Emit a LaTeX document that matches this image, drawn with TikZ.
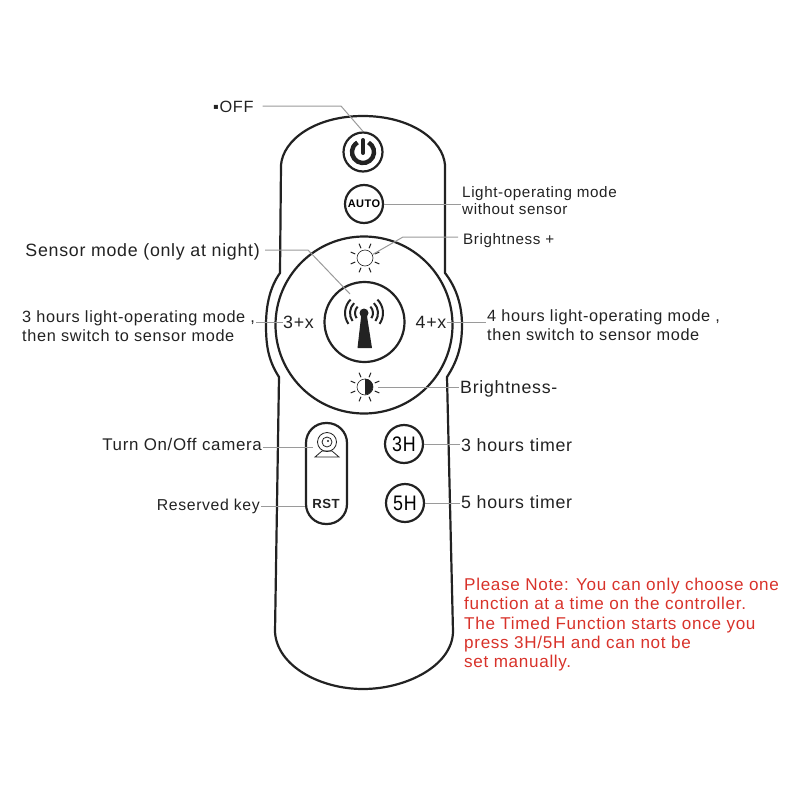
\documentclass[tikz,border=0pt]{standalone}
\usepackage{fontspec}
\setmainfont[LetterSpace=4]{Liberation Sans}
\usepackage{xcolor}
\usetikzlibrary{arrows.meta,positioning}
\definecolor{bodyink}{HTML}{222222}
\definecolor{leadgray}{HTML}{9A9A9A}
\definecolor{notered}{HTML}{D8322A}
\newcommand{\narrowkey}[1]{\scalebox{0.85}[1]{\fontsize{21}{22}\selectfont #1}}

\begin{document}
\begin{tikzpicture}[
  x=1pt,y=-1pt,
  btn/.style ={draw=bodyink,circle,line width=2.2pt,minimum size=38pt,inner sep=0pt,align=center},
  lbl/.style ={font=\fontsize{15.2}{17.5}\selectfont,text=bodyink,align=left,inner sep=1pt},
  mid/.style ={lbl,font=\fontsize{16.3}{19}\selectfont},
  big/.style ={lbl,font=\fontsize{17.8}{20}\selectfont},
  note/.style={lbl,text=notered,anchor=north west,font=\fontsize{17.1}{19.25}\selectfont},
  lead/.style={draw=leadgray,line width=1pt},
  sunny/.style={draw=bodyink,circle,line width=0.6pt,minimum size=16pt,inner sep=0pt},
  rayl/.style={bodyink,line width=1pt},
  wave/.style={bodyink,line width=2pt}
]
\useasboundingbox (0,0) rectangle (800,800);

%% Remote outline
\draw[bodyink,line width=2.2pt]
  (281,165) .. controls (283,140) and (315,116) .. (363,116)
  .. controls (411,116) and (443,140) .. (445,165)
  -- (445,273) .. controls (456,287) and (462,305) .. (462,325)
  .. controls (462,345) and (458,360) .. (447,377)
  -- (453,632) .. controls (452,666) and (406,689) .. (363,689)
  .. controls (320,689) and (277,666) .. (275,632)
  -- (279,377) .. controls (268,360) and (266,345) .. (266,325)
  .. controls (266,305) and (270,287) .. (280,273) -- cycle;

%% Buttons
\node[btn,minimum size=39pt] (power) at (363,152) {};
\node[btn] (auto) at (364,204) {\fontsize{11}{12}\selectfont\bfseries AUTO};
\node[draw=bodyink,circle,line width=2.2pt,minimum size=177pt,inner sep=0pt] (dial) at (364,325) {};
\node[draw=bodyink,circle,line width=2.2pt,minimum size=80pt,inner sep=0pt] (sensor) at (364.5,322) {};
\node[sunny] (sunup) at (365,258) {};
\node[sunny] (sundown) at (365,387) {};
\node[draw=bodyink,rectangle,rounded corners=20pt,line width=2.2pt,minimum width=41pt,minimum height=101pt,inner sep=0pt] (pill) at (326.5,473.5) {};
\node[inner sep=0pt,font=\fontsize{13.2}{15}\selectfont\bfseries,text=bodyink] (rst) at (326,504) {RST};
\node[btn] (timer3) at (404,444) {\narrowkey{3H}};
\node[btn] (timer5) at (405,503) {\narrowkey{5H}};
\node[big,inner sep=0pt] (plus3) at (298.5,322) {3+x};
\node[big,inner sep=0pt] (plus4) at (431,322) {4+x};

%% Power glyph
\draw[bodyink,line width=4.4pt] ([shift={(60:11pt)}]power.center) arc[start angle=60,end angle=-240,radius=11pt];
\draw[bodyink,line width=4pt,line cap=round] ([yshift=12pt]power.center) -- ([yshift=-1pt]power.center);

%% Sun rays
\foreach \a in {22.5,67.5,...,337.5}{
  \draw[rayl] ([shift={(\a:10.5pt)}]sunup.center) -- ([shift={(\a:15.5pt)}]sunup.center);
  \draw[rayl] ([shift={(\a:10.5pt)}]sundown.center) -- ([shift={(\a:15.5pt)}]sundown.center);
}
\fill[bodyink] (sundown.north) arc[start angle=90,end angle=-90,radius=8pt] -- cycle;

%% Antenna
\coordinate (mast) at (364,313);
\fill[bodyink] (361.5,313) -- (366.5,313) -- (372,348) -- (357.5,348) -- cycle;
\fill[bodyink] (mast) circle[radius=4.5pt];
\foreach \r in {9,14,19}{
  \draw[wave] ([shift={(135:\r pt)}]mast) arc[start angle=135,end angle=215,radius=\r pt];
  \draw[wave] ([shift={(45:\r pt)}]mast) arc[start angle=45,end angle=-35,radius=\r pt];
}

%% Camera glyph
\coordinate (cam) at (327,442);
\draw[bodyink,line width=0.8pt] (cam) circle[radius=9.5pt];
\draw[bodyink,line width=0.8pt] (cam) circle[radius=5pt];
\fill[bodyink] (328,441) circle[radius=1.2pt];
\draw[bodyink,line width=0.8pt] (322,451) -- (332,451) -- (339,457) -- (315,457) -- cycle;

%% Labels
\node[mid,anchor=west] (offlbl) at (212,106.5) {▪OFF};
\node[lbl,anchor=west] (autolbl) at (461,200.5) {Light-operating mode\\without sensor};
\node[lbl,anchor=west] (uplbl) at (462,240.5) {Brightness +};
\node[big,anchor=east] (sensorlbl) at (261,252) {Sensor mode (only at night)};
\node[mid,anchor=west] (hours3) at (21,326) {3 hours light-operating mode ,\\then switch to sensor mode};
\node[mid,anchor=west] (hours4) at (486,325) {4 hours light-operating mode ,\\then switch to sensor mode};
\node[big,anchor=west] (downlbl) at (459,388.5) {Brightness-};
\node[mid,anchor=east,font=\fontsize{16.9}{19}\selectfont] (camlbl) at (263,444.5) {Turn On/Off camera};
\node[lbl,anchor=east,font=\fontsize{15.8}{18}\selectfont] (rstlbl) at (261,506) {Reserved key};
\node[big,anchor=west] (lbl3h) at (460,445.5) {3 hours timer};
\node[big,anchor=west] (lbl5h) at (460,502.5) {5 hours timer};
\node[note] (notelbl) at (463,577) {Please Note: You can only choose one\\function at a time on the controller.\\The Timed Function starts once you\\press 3H/5H and can not be\\set manually.};

%% Leader lines
\coordinate (offbend) at (341,106);
\coordinate (upbend) at (403,237);
\coordinate (sensorbend) at (308,250);
\coordinate (sensortip) at (350,294);
\coordinate (camtip) at (313,447);
\draw[lead,shorten <=8pt] (offlbl.east |- offbend) -- (offbend) -- (power.north);
\draw[lead] (auto.east) -- (auto.east -| autolbl.west);
\draw[lead,shorten <=4pt] (uplbl.west |- upbend) -- (upbend) -- (sunup.25);
\draw[lead,shorten <=4pt] (sensorlbl.east |- sensorbend) -- (sensorbend) -- (sensortip);
\draw[lead] (hours3.east |- plus3.west) -- (plus3.west);
\draw[lead] (plus4.east) -- (hours4.west |- plus4.east);
\draw[lead,shorten <=5pt] (sundown.east) -- (sundown.east -| downlbl.west);
\draw[lead] (camlbl.east |- camtip) -- (camtip);
\draw[lead] (rstlbl.east) -- (rstlbl.east -| pill.west);
\draw[lead] (timer3.east) -- (timer3.east -| lbl3h.west);
\draw[lead] (timer5.east) -- (timer5.east -| lbl5h.west);
\end{tikzpicture}
\end{document}
